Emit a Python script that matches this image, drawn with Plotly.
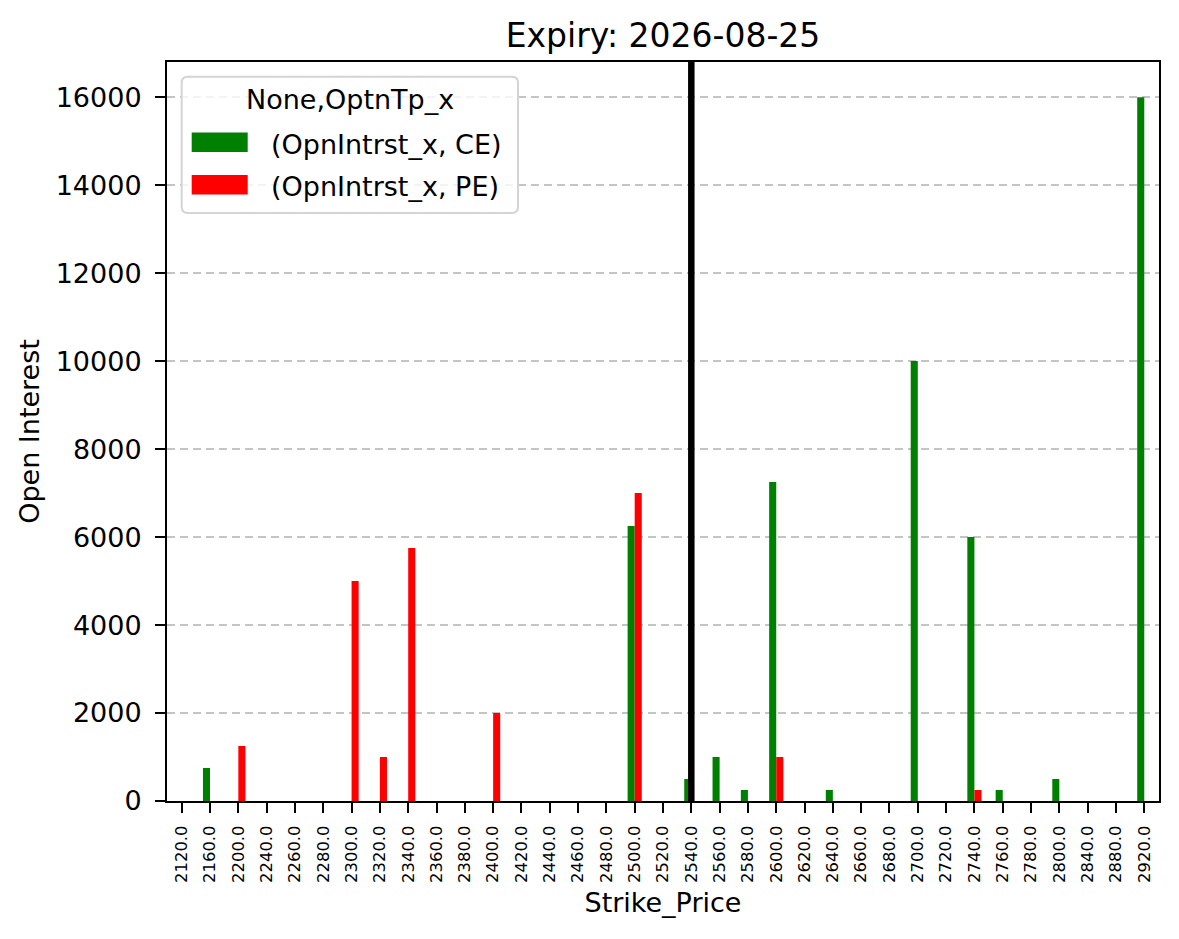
import plotly.graph_objects as go

strikes = [2120, 2160, 2200, 2240, 2260, 2280, 2300, 2320, 2340, 2360, 2380, 2400,
           2420, 2440, 2460, 2480, 2500, 2520, 2540, 2560, 2580, 2600, 2620, 2640,
           2660, 2680, 2700, 2720, 2740, 2760, 2780, 2800, 2840, 2880, 2920]
ce_oi = {2160: 750, 2500: 6250, 2540: 500, 2560: 1000, 2580: 250, 2600: 7250,
         2640: 250, 2700: 10000, 2740: 6000, 2760: 250, 2800: 500, 2920: 16000}
pe_oi = {2200: 1250, 2300: 5000, 2320: 1000, 2340: 5750, 2400: 2000, 2500: 7000,
         2600: 1000, 2740: 250}
spot_strike = 2540
yticks = list(range(0, 16001, 2000))
series_names = ["(OpnIntrst_x, CE)", "(OpnIntrst_x, PE)"]
series_colors = ["green", "red"]
legend_title = "None,OptnTp_x"

cats = [f"{s:.1f}" for s in strikes]
ce_vals = [ce_oi.get(s, 0) for s in strikes]
pe_vals = [pe_oi.get(s, 0) for s in strikes]

W, H = 1179, 939
L, R, T, B = 167, 20, 62, 138
PW, PH = W - L - R, H - T - B


def px(xp):
    return (xp - L) / PW


def py(yp):
    return (H - B - yp) / PH


FONT = "DejaVu Sans"
fig = go.Figure()
for name, vals, col in zip(series_names, [ce_vals, pe_vals], series_colors):
    fig.add_trace(go.Bar(x=cats, y=vals, name=name, showlegend=False,
                         marker=dict(color=col, line=dict(width=0))))

# spot line at the strike category
spot_idx = cats.index(f"{spot_strike:.1f}")
fig.add_shape(type="line", xref="x", yref="paper", x0=spot_idx, x1=spot_idx,
              y0=0, y1=1, line=dict(color="black", width=6.5), layer="above")

# legend drawn in matplotlib style
lx0, lx1, ly0, ly1, rad = 181.7, 518, 76.7, 213, 6
path = (f"M {px(lx0 + rad)} {py(ly0)} L {px(lx1 - rad)} {py(ly0)} "
        f"Q {px(lx1)} {py(ly0)} {px(lx1)} {py(ly0 + rad)} "
        f"L {px(lx1)} {py(ly1 - rad)} Q {px(lx1)} {py(ly1)} {px(lx1 - rad)} {py(ly1)} "
        f"L {px(lx0 + rad)} {py(ly1)} Q {px(lx0)} {py(ly1)} {px(lx0)} {py(ly1 - rad)} "
        f"L {px(lx0)} {py(ly0 + rad)} Q {px(lx0)} {py(ly0)} {px(lx0 + rad)} {py(ly0)} Z")
fig.add_shape(type="path", xref="paper", yref="paper", path=path,
              fillcolor="rgba(255,255,255,0.8)", line=dict(color="#d4d4d4", width=2), layer="above")
fig.add_annotation(xref="paper", yref="paper", x=px((lx0 + lx1) / 2), y=py(99.5),
                   text=legend_title, showarrow=False, xanchor="center", yanchor="middle",
                   font=dict(family=FONT, size=27, color="black"))
for i, (name, col) in enumerate(zip(series_names, series_colors)):
    cy = 142.2 + i * 42.5
    fig.add_shape(type="rect", xref="paper", yref="paper",
                  x0=px(191.7), x1=px(247.7), y0=py(cy - 9.7), y1=py(cy + 9.7),
                  fillcolor=col, line=dict(width=0), layer="above")
    fig.add_annotation(xref="paper", yref="paper", x=px(269), y=py(cy + 2),
                       text=name, showarrow=False, xanchor="left", yanchor="middle",
                       font=dict(family=FONT, size=27, color="black"))

fig.update_layout(
    width=W, height=H,
    paper_bgcolor="white", plot_bgcolor="white",
    margin=dict(l=L, r=R, t=T, b=B, autoexpand=False),
    barmode="group", bargap=0.5, bargroupgap=0,
    font=dict(family=FONT, size=27, color="black"),
    title=dict(text="Expiry: 2026-08-25", x=(L + W - R) / 2 / W, xanchor="center",
               xref="container", yref="container",
               y=1 - 35 / H, yanchor="middle", font=dict(size=33)),
    showlegend=False,
)
fig.update_xaxes(
    type="category", range=[-0.52, len(cats) - 0.48],
    showline=True, linecolor="black", linewidth=2, mirror=True,
    ticks="outside", ticklen=10, tickwidth=2, tickcolor="black",
    tickangle=-90, tickfont=dict(size=16.4), ticklabelstandoff=6,
    showgrid=False,
    title=dict(text="Strike_Price", font=dict(size=27), standoff=11),
)
fig.update_yaxes(
    range=[0, 16800], tickvals=yticks, ticktext=[str(v) for v in yticks],
    showline=True, linecolor="black", linewidth=2, mirror=True,
    ticks="outside", ticklen=10, tickwidth=2, tickcolor="black",
    showgrid=True, gridcolor="#c4c4c4", griddash="8px,5px", gridwidth=1.5,
    zeroline=False, tickfont=dict(size=27), ticklabelstandoff=8,
    title=dict(text="Open Interest", font=dict(size=27), standoff=8),
)
fig.write_html("out.html")
